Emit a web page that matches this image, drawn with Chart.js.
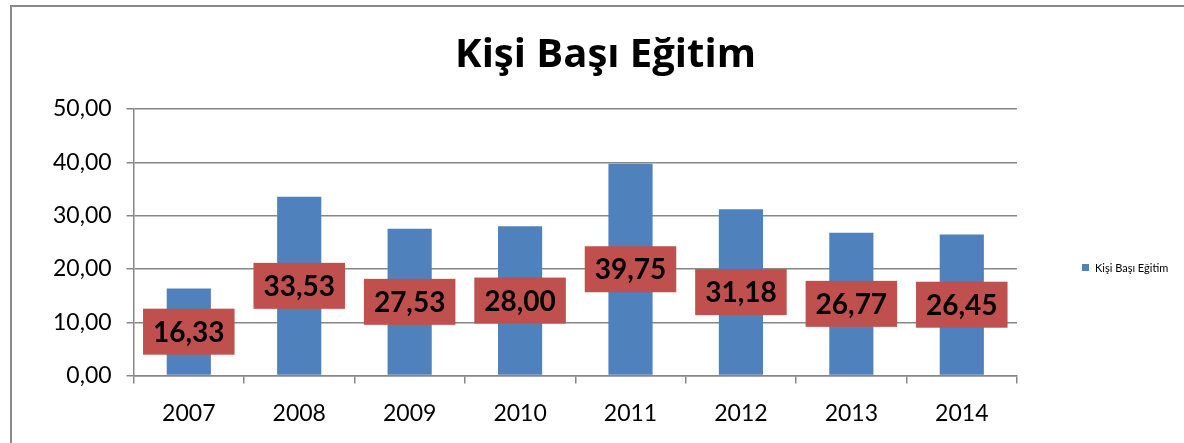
<!DOCTYPE html>
<html>
<head>
<meta charset="utf-8">
<script src="https://cdn.jsdelivr.net/npm/chart.js@4.4.1/dist/chart.umd.min.js"></script>
<style>
  html, body { margin: 0; padding: 0; background: #fff; overflow: hidden; }
  #wrap { position: relative; width: 1184px; height: 443px; }
  #frame { position: absolute; left: 10px; top: 5px; width: 1300px; height: 600px; border: 2px solid #8a8a8a; box-sizing: border-box; pointer-events: none; }
  canvas { position: absolute; left: 0; top: 0; }
</style>
</head>
<body>
<div id="wrap">
  <canvas id="c" width="1184" height="443"></canvas>
  <div id="frame"></div>
</div>
<script>
const chartTitle = "Kişi Başı Eğitim";
const seriesName = "Kişi Başı Eğitim";
const categories = ["2007", "2008", "2009", "2010", "2011", "2012", "2013", "2014"];
const values = [16.33, 33.53, 27.53, 28.00, 39.75, 31.18, 26.77, 26.45];
const yTicks = [0, 10, 20, 30, 40, 50];

const FONT = "Lato, 'Open Sans', sans-serif";
const fmt = v => v.toFixed(2).replace('.', ',');

const labelPlugin = {
  id: 'boxLabels',
  afterDatasetsDraw(chart) {
    const ctx = chart.ctx;
    const meta = chart.getDatasetMeta(0);
    ctx.save();
    ctx.font = "bold 28px " + FONT;
    ctx.textAlign = 'center';
    ctx.textBaseline = 'middle';
    meta.data.forEach((el, i) => {
      const txt = fmt(values[i]);
      const w = ctx.measureText(txt).width + 20;
      const h = 46;
      const cy = (el.y + el.base) / 2;
      ctx.fillStyle = '#C0504D';
      ctx.fillRect(el.x - w / 2, cy - h / 2, w, h);
      ctx.fillStyle = '#000';
      ctx.fillText(txt, el.x, cy + 1);
    });
    ctx.restore();
  }
};

const legendPlugin = {
  id: 'sideLegend',
  afterDraw(chart) {
    const ctx = chart.ctx;
    const ds = chart.data.datasets[0];
    ctx.save();
    ctx.fillStyle = ds.backgroundColor;
    ctx.fillRect(1082, 264, 7, 7);
    ctx.fillStyle = '#000';
    ctx.font = "11px " + FONT;
    ctx.textAlign = 'left';
    ctx.textBaseline = 'middle';
    ctx.fillText(ds.label, 1095, 268);
    ctx.restore();
  }
};

new Chart(document.getElementById('c'), {
  type: 'bar',
  data: {
    labels: categories,
    datasets: [{
      label: seriesName,
      data: values,
      backgroundColor: '#4F81BD',
      borderWidth: 0,
      barPercentage: 0.4,
      categoryPercentage: 1.0
    }]
  },
  options: {
    responsive: false,
    animation: false,
    devicePixelRatio: 1,
    layout: { padding: { left: 38, right: 11, top: 0, bottom: -1 } },
    plugins: {
      title: {
        display: true,
        text: chartTitle,
        color: '#000',
        font: { family: "'Open Sans', Lato, sans-serif", size: 40, weight: 'bold' },
        padding: { top: 32, bottom: 29 }
      },
      legend: { display: false },
      tooltip: { enabled: false }
    },
    scales: {
      x: {
        grid: {
          display: true,
          drawOnChartArea: false,
          drawTicks: true,
          tickLength: 8,
          color: '#878787',
          lineWidth: 1.5
        },
        border: { display: true, color: '#878787', width: 1.5 },
        ticks: {
          color: '#000',
          font: { family: FONT, size: 23, lineHeight: 0.8 },
          padding: 21
        }
      },
      y: {
        min: 0,
        max: 50,
        afterBuildTicks: axis => { axis.ticks = yTicks.map(v => ({ value: v })); },
        grid: {
          color: '#878787',
          lineWidth: 1.5,
          drawTicks: true,
          tickLength: 7
        },
        border: { display: true, color: '#878787', width: 1.5 },
        ticks: {
          color: '#000',
          font: { family: FONT, size: 23 },
          padding: 15,
          callback: v => fmt(v)
        }
      },
      legendSpace: {
        type: 'linear',
        position: 'right',
        display: true,
        grid: { display: false, drawTicks: false },
        border: { display: false },
        ticks: { display: false },
        afterFit: axis => { axis.width = 156; }
      }
    }
  },
  plugins: [labelPlugin, legendPlugin]
});
</script>
</body>
</html>
